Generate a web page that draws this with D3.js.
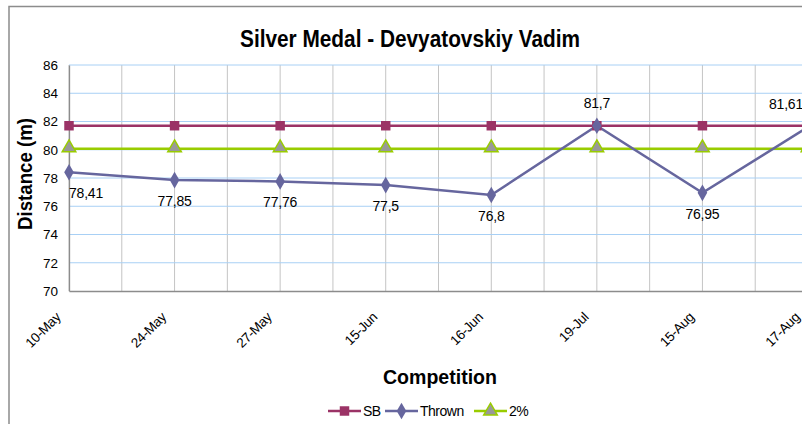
<!DOCTYPE html>
<html>
<head>
<meta charset="utf-8">
<script src="https://cdn.jsdelivr.net/npm/d3@7/dist/d3.min.js"></script>
<style>
  html, body { margin: 0; padding: 0; background: #fff; }
  svg { display: block; font-family: "Liberation Sans", Arial, sans-serif; }
</style>
</head>
<body>
<svg id="chart" width="802" height="424"></svg>
<script>
// Competitions and results
const competitions = ["10-May", "24-May", "27-May", "15-Jun", "16-Jun", "19-Jul", "15-Aug", "17-Aug"];
const thrown = [78.41, 77.85, 77.76, 77.5, 76.8, 81.7, 76.95, 81.61];
const seasonBest = [81.7, 81.7, 81.7, 81.7, 81.7, 81.7, 81.7, 81.7];
const twoPercent = [80.066, 80.066, 80.066, 80.066, 80.066, 80.066, 80.066, 80.066];
const yTicks = [70, 72, 74, 76, 78, 80, 82, 84, 86];
const seriesNames = ["SB", "Thrown", "2%"];

const svg = d3.select("#chart");
const plot = { left: 69, right: 808, top: 65, bottom: 291 };

const x = d3.scalePoint().domain(competitions).range([plot.left, plot.right]);
const y = d3.scaleLinear().domain([70, 86]).range([plot.bottom, plot.top]);

// chart frame
svg.append("rect")
  .attr("x", 9).attr("y", 6.5).attr("width", 900).attr("height", 500)
  .attr("fill", "#fff").attr("stroke", "#8c8c8c").attr("stroke-width", 1.5);

// vertical gridlines at each category and halfway between them
const step = x.step();
const vLines = [];
competitions.forEach((c, i) => {
  vLines.push(x(c));
  if (i < competitions.length - 1) vLines.push(x(c) + step / 2);
});
svg.append("g").selectAll("line").data(vLines).join("line")
  .attr("x1", d => d).attr("x2", d => d)
  .attr("y1", plot.top).attr("y2", plot.bottom)
  .attr("stroke", "#c4c4c4").attr("stroke-width", 1);

// horizontal gridlines
svg.append("g").selectAll("line").data(yTicks.filter(t => t > 70)).join("line")
  .attr("x1", plot.left).attr("x2", plot.right)
  .attr("y1", d => y(d)).attr("y2", d => y(d))
  .attr("stroke", "#a8d0f5").attr("stroke-width", 1);

// y axis
const yAxis = svg.append("g")
  .attr("transform", `translate(${plot.left},0)`)
  .call(d3.axisLeft(y).tickValues(yTicks).tickSize(0).tickPadding(11).tickFormat(d3.format("d")));
yAxis.select(".domain").attr("stroke", "#8c8c8c").attr("stroke-width", 1.3);
yAxis.selectAll("text").attr("font-size", 13.5).attr("fill", "#000")
  .attr("font-family", "Liberation Sans, Arial, sans-serif");

// x axis
const xAxis = svg.append("g")
  .attr("transform", `translate(0,${plot.bottom})`)
  .call(d3.axisBottom(x).tickSize(0).tickFormat(d => d));
xAxis.select(".domain").attr("stroke", "#8c8c8c").attr("stroke-width", 1.3);
xAxis.selectAll("text")
  .attr("font-size", 13.5).attr("fill", "#000")
  .attr("letter-spacing", -0.3)
  .attr("font-family", "Liberation Sans, Arial, sans-serif")
  .attr("text-anchor", "end")
  .attr("dy", null).attr("y", 0)
  .attr("transform", "translate(-8,27) rotate(-45)");

// series styling
const colSB = "#9b3366", colThrown = "#66669e", colPct = "#99cc00";

const line = d3.line().x((d, i) => x(competitions[i])).y(d => y(d));

function drawSeries(values, color) {
  svg.append("path").datum(values)
    .attr("d", line).attr("fill", "none")
    .attr("stroke", color).attr("stroke-width", 2.5);
}
drawSeries(seasonBest, colSB);
drawSeries(twoPercent, colPct);
drawSeries(thrown, colThrown);

const sq = d3.symbol().type(d3.symbolSquare).size(90);
const dia = d3.symbol().type(d3.symbolDiamond).size(80);
const tri = d3.symbol().type(d3.symbolTriangle).size(80);

svg.append("g").selectAll("path").data(seasonBest).join("path")
  .attr("d", sq)
  .attr("transform", (d, i) => `translate(${x(competitions[i])},${y(d)})`)
  .attr("fill", colSB);
svg.append("g").selectAll("path").data(twoPercent).join("path")
  .attr("d", tri)
  .attr("transform", (d, i) => `translate(${x(competitions[i])},${y(d) - 1})`)
  .attr("fill", "#999999").attr("stroke", colPct).attr("stroke-width", 1.5);
svg.append("g").selectAll("path").data(thrown).join("path")
  .attr("d", dia)
  .attr("transform", (d, i) => `translate(${x(competitions[i])},${y(d)})`)
  .attr("fill", colThrown);

// value labels for the thrown series (kept inside the plot area)
const fmt = v => String(v).replace(".", ",");
const labels = svg.append("g").selectAll("text").data(thrown).join("text")
  .attr("font-size", 14).attr("fill", "#000")
  .attr("letter-spacing", -0.2)
  .attr("text-anchor", "middle")
  .text(d => fmt(d))
  .attr("y", d => d > 81 ? y(d) - 18 : y(d) + 26);
labels.each(function(d, i) {
  const w = this.getComputedTextLength();
  let cx = x(competitions[i]);
  cx = Math.max(plot.left + w / 2, Math.min(803 - w / 2, cx));
  d3.select(this).attr("x", cx);
});

// titles
svg.append("text").attr("x", 410).attr("y", 47)
  .attr("text-anchor", "middle").attr("font-size", 23).attr("font-weight", "bold")
  .attr("textLength", 340).attr("lengthAdjust", "spacingAndGlyphs")
  .text("Silver Medal - Devyatovskiy Vadim");
svg.append("text").attr("x", 440).attr("y", 384)
  .attr("text-anchor", "middle").attr("font-size", 20).attr("font-weight", "bold")
  .attr("textLength", 114).attr("lengthAdjust", "spacingAndGlyphs")
  .text("Competition");
svg.append("text")
  .attr("transform", "translate(32,174) rotate(-90)")
  .attr("text-anchor", "middle").attr("font-size", 20).attr("font-weight", "bold")
  .attr("textLength", 112).attr("lengthAdjust", "spacingAndGlyphs")
  .text("Distance (m)");

// legend
const legendItems = [
  { name: seriesNames[0], color: colSB, sym: sq, fill: colSB, stroke: "none", x: 328 },
  { name: seriesNames[1], color: colThrown, sym: dia, fill: colThrown, stroke: "none", x: 385 },
  { name: seriesNames[2], color: colPct, sym: tri, fill: "#999999", stroke: colPct, x: 474 }
];
const lg = svg.append("g").selectAll("g").data(legendItems).join("g")
  .attr("transform", d => `translate(${d.x},411)`);
lg.append("line").attr("x1", 0).attr("x2", 33).attr("y1", 0).attr("y2", 0)
  .attr("stroke", d => d.color).attr("stroke-width", 2.5);
lg.append("path").attr("d", d => d.sym())
  .attr("transform", "translate(16.5,0)")
  .attr("fill", d => d.fill).attr("stroke", d => d.stroke).attr("stroke-width", 1.5);
lg.append("text").attr("x", 35).attr("y", 5)
  .attr("font-size", 14).attr("letter-spacing", -0.5).text(d => d.name);
</script>
</body>
</html>
